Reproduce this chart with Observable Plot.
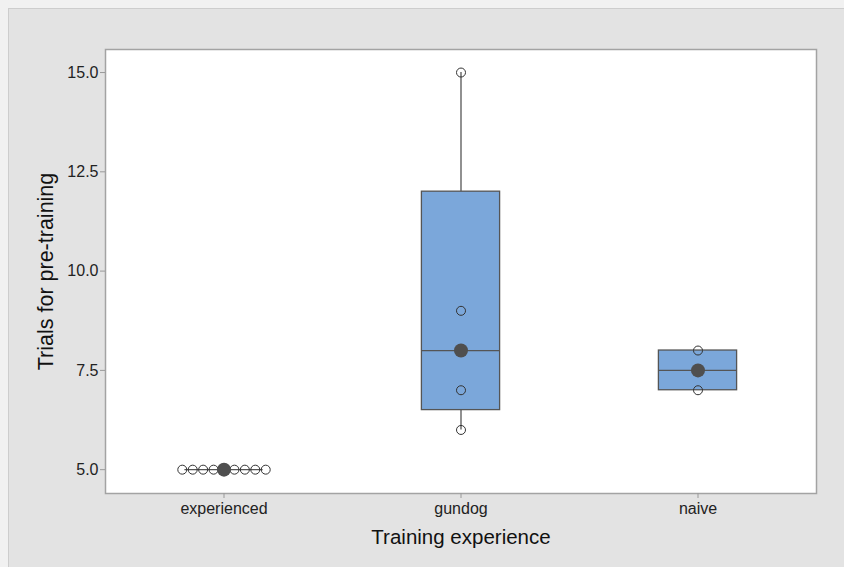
<!DOCTYPE html>
<html><head><meta charset="utf-8">
<script src="https://cdn.jsdelivr.net/npm/d3@7"></script>
<script src="https://cdn.jsdelivr.net/npm/@observablehq/plot@0.6"></script>
<style>
html,body{margin:0;padding:0;background:#f1f1f1;}
#panel{position:absolute;left:8px;top:8px;width:836px;height:559px;border-left:1px solid #cdcdcd;border-top:1px solid #cdcdcd;background:#e3e3e3;box-sizing:border-box;}
#panel svg{display:block}
</style></head><body><div id="panel"></div>
<script>
// Data
const groups = ["experienced", "gundog", "naive"];
const experienced = [5, 5, 5, 5, 5, 5, 5, 5, 5];
const gundog = [6, 7, 8, 9, 15];
const naive = [7, 8];
const yTicks = [5, 7.5, 10, 12.5, 15];
const xLabel = "Training experience";
const yLabel = "Trials for pre-training";

const series = [experienced, gundog, naive];

// Minitab-style quartiles: position p*(n+1)
function quart(sorted, p) {
  const n = sorted.length, pos = p * (n + 1), lo = Math.floor(pos), f = pos - lo;
  if (lo < 1) return sorted[0];
  if (lo >= n) return sorted[n - 1];
  return sorted[lo - 1] + f * (sorted[lo] - sorted[lo - 1]);
}
const boxW = 0.33;      // box width in band units
const dotStep = 0.044;  // spacing between duplicate dots

const stats = [], whiskers = [], points = [];
series.forEach((vals, i) => {
  const s = vals.slice().sort(d3.ascending);
  const q1 = quart(s, 0.25), med = quart(s, 0.5), q3 = quart(s, 0.75);
  const iqr = q3 - q1;
  const lo = d3.min(s.filter(v => v >= q1 - 1.5 * iqr));
  const hi = d3.max(s.filter(v => v <= q3 + 1.5 * iqr));
  stats.push({i, q1, med, q3});
  if (lo < q1) whiskers.push({i, y1: lo, y2: q1});
  if (hi > q3) whiskers.push({i, y1: q3, y2: hi});
  const counts = d3.rollup(s, v => v.length, v => v);
  const seen = new Map();
  s.forEach(v => {
    const m = counts.get(v), k = seen.get(v) || 0;
    seen.set(v, k + 1);
    points.push({x: i + (k - (m - 1) / 2) * dotStep, y: v});
  });
});

const chart = Plot.plot({
  width: 835, height: 558,
  marginLeft: 96, marginRight: 28, marginTop: 40, marginBottom: 74,
  style: {background: "#e3e3e3", fontFamily: "'Liberation Sans', Arial, sans-serif", color: "#222", overflow: "visible"},
  x: {domain: [-0.5, 2.5]},
  y: {domain: [4.4, 15.58]},
  marks: [
    Plot.frame({fill: "white", stroke: "#a3a3a3", strokeWidth: 1.5}),
    Plot.ruleX(whiskers, {x: "i", y1: "y1", y2: "y2", stroke: "#555", strokeWidth: 1.3}),
    Plot.rect(stats, {x1: d => d.i - boxW / 2, x2: d => d.i + boxW / 2, y1: "q1", y2: "q3",
      fill: "#7ba7da", stroke: "#555", strokeWidth: 1.3}),
    Plot.ruleY(stats, {y: "med", x1: d => d.i - boxW / 2, x2: d => d.i + boxW / 2, stroke: "#555", strokeWidth: 1.3}),
    Plot.dot(points, {x: "x", y: "y", r: 4.5, stroke: "#333", fill: "none", strokeWidth: 1}),
    Plot.dot(stats, {x: "i", y: "med", r: 7, fill: "#4f4f4f", stroke: "none"}),
    Plot.axisY({ticks: yTicks, tickFormat: d3.format(".1f"), tickSize: 5, tickPadding: 2,
      stroke: "#999", fontSize: 16, label: null}),
    Plot.axisX({ticks: [0, 1, 2], tickFormat: i => groups[i], tickSize: 5, tickPadding: 4,
      stroke: "#999", fontSize: 16, label: null}),
    Plot.text([yLabel], {frameAnchor: "left", dx: -59, rotate: -90, textAnchor: "middle", fontSize: 21.5, fill: "#111"}),
    Plot.text([xLabel], {frameAnchor: "bottom", dy: 50, textAnchor: "middle", fontSize: 20.5, fill: "#111"})
  ]
});
document.getElementById("panel").appendChild(chart);
</script>
</body></html>
